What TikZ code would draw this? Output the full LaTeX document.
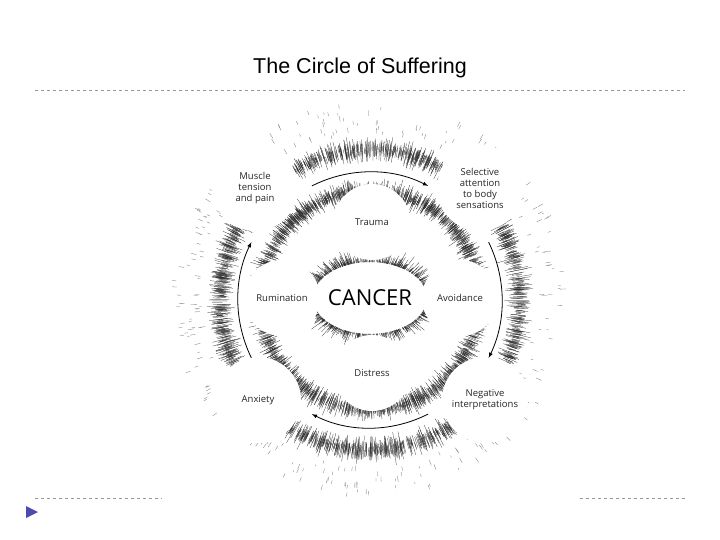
\documentclass[tikz,border=0pt]{standalone}
\usetikzlibrary{calc}
\usepackage{fontspec}
\setmainfont{Liberation Sans}
\newfontfamily\lab{Open Sans}
\begin{document}
\begin{tikzpicture}[x=1pt,y=-1pt,
  fuzz/.style={black!85,line width=0.25pt},
  blob/.style={circle,fill=white,minimum size=#1,inner sep=0pt},
  lbl/.style={font=\lab\fontsize{9.5}{11}\selectfont,align=center,text=black!85},
  cyc/.style={->,>=latex,line width=0.8pt},
  sep/.style={dashed,black!40,line width=0.6pt}]
\useasboundingbox (0,0) rectangle (720,540);
\node (title) at (360,68) {\fontsize{21.5}{26}\selectfont The Circle of Suffering};
\coordinate (L1) at (35,90); \coordinate (R1) at (685,90);
\draw[sep] (L1) -- (R1);
\coordinate (L2) at (35,498); \coordinate (L3) at (162,498);
\coordinate (R2) at (580,498); \coordinate (R3) at (685,498);
\draw[sep] (L2) -- (L3); \draw[sep] (R2) -- (R3);
\coordinate (t1) at (26,506); \coordinate (t2) at (38,512); \coordinate (t3) at (26,518);
\fill[blue!55!black!70] (t1) -- (t2) -- (t3) -- cycle;
\coordinate (c) at (370,300);
\pgfmathsetseed{7}
% outer ring
\foreach \i in {1,...,2400}{
  \pgfmathsetmacro\a{rnd*360}\pgfmathsetmacro\r{150+4*rand}\pgfmathsetmacro\l{2+12*rnd*rnd}
  \pgfmathsetmacro\ra{\r-\l}\pgfmathsetmacro\rb{\r+\l}
  \draw[fuzz] ($(c)+(\a:\ra)$) -- ($(c)+(\a:\rb)$);}
% faint outer scatter
\foreach \i in {1,...,300}{
  \pgfmathsetmacro\a{rnd*360}\pgfmathsetmacro\r{165+30*rnd}\pgfmathsetmacro\rb{\r+2+4*rnd}
  \draw[black!55,line width=0.3pt] ($(c)+(\a:\r)$) -- ($(c)+(\a:\rb)$);}
% inner ring
\foreach \i in {1,...,1900}{
  \pgfmathsetmacro\a{rnd*360}\pgfmathsetmacro\r{110+3*rand}\pgfmathsetmacro\l{2+11*rnd*rnd}
  \pgfmathsetmacro\ra{\r-\l}\pgfmathsetmacro\rb{\r+\l}
  \draw[fuzz] ($(c)+(\a:\ra)$) -- ($(c)+(\a:\rb)$);}
% cancer fuzz
\foreach \i in {1,...,900}{
  \pgfmathsetmacro\a{rnd*360}\pgfmathsetmacro\l{1+16*rnd*rnd}
  \pgfmathsetmacro\ex{57*cos(\a)}\pgfmathsetmacro\ey{36*sin(\a)}
  \pgfmathsetmacro\fx{(57+\l)*cos(\a)}\pgfmathsetmacro\fy{(36+\l)*sin(\a)}
  \draw[fuzz] ($(c)+(\ex,\ey-2)$) -- ($(c)+(\fx,\fy-2)$);}
% white blobs
\node[blob=76pt] (trauma) at (372,222) {};
\node[blob=76pt] (rum) at (282,298) {};
\node[blob=76pt] (avo) at (460,298) {};
\node[blob=76pt] (dis) at (372,373) {};
\node[blob=86pt] (mus) at (255,188) {};
\node[blob=86pt] (sel) at (480,188) {};
\node[blob=86pt] (anx) at (258,400) {};
\node[blob=86pt] (neg) at (485,400) {};
\fill[white] (370,298) ellipse[x radius=55,y radius=34];
% labels
\node[lbl] at (trauma) {Trauma};
\node[lbl] at (rum) {Rumination};
\node[lbl] at (avo) {Avoidance};
\node[lbl] at (dis) {Distress};
\node[lbl] at (mus) {Muscle\\tension\\and pain};
\node[lbl] at (sel) {Selective\\attention\\to body\\sensations};
\node[lbl] at (anx) {Anxiety};
\node[lbl] at (neg) {Negative\\interpretations};
\node (cancer) at (370,298) {\lab\fontsize{22}{26}\selectfont CANCER};
% cycle arrows
\draw[cyc] ($(c)+(243:128)$) arc[start angle=243,end angle=297,radius=128];
\draw[cyc] ($(c)+(334:132)$) arc[start angle=334,end angle=386,radius=132];
\draw[cyc] ($(c)+(63:128)$) arc[start angle=63,end angle=117,radius=128];
\draw[cyc] ($(c)+(154:132)$) arc[start angle=154,end angle=206,radius=132];
\end{tikzpicture}
\end{document}
